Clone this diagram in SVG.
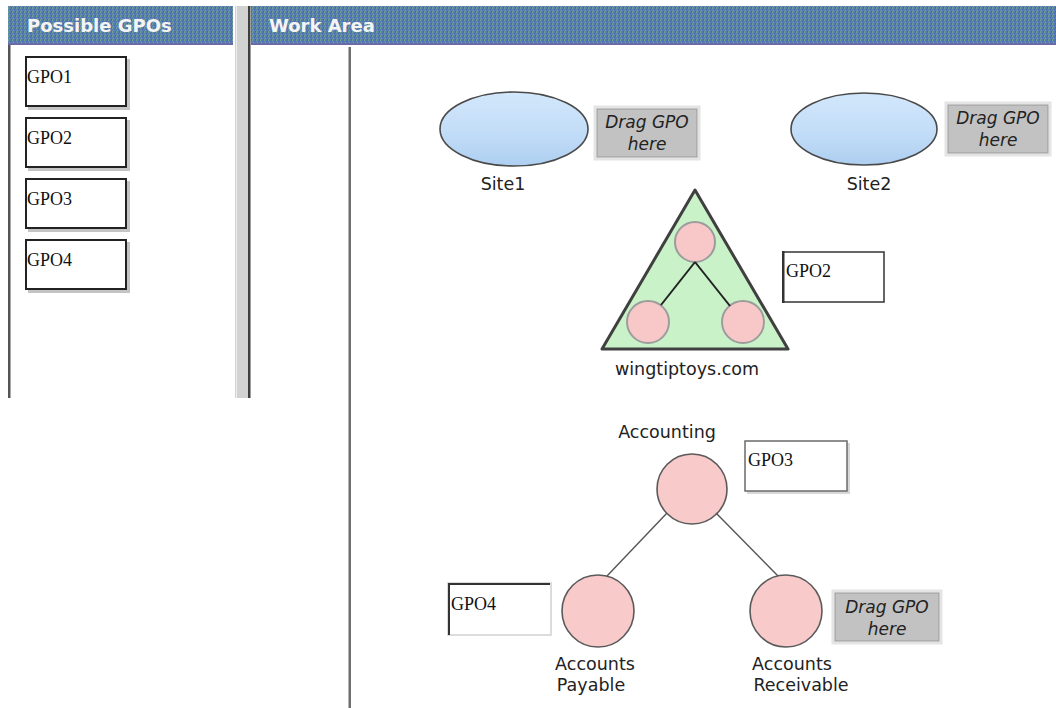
<svg xmlns="http://www.w3.org/2000/svg" width="1056" height="708" viewBox="0 0 1056 708">
<defs>
<pattern id="dither" width="4" height="4" patternUnits="userSpaceOnUse">
<rect width="4" height="4" fill="#5a7fae"/>
<rect x="0" y="0" width="1" height="1" fill="#6fa392"/>
<rect x="2" y="1" width="1" height="1" fill="#4866b8"/>
<rect x="1" y="2" width="1" height="1" fill="#72a894"/>
<rect x="3" y="3" width="1" height="1" fill="#4a62b0"/>
<rect x="3" y="0" width="1" height="1" fill="#4e6cc0"/>
<rect x="0" y="3" width="1" height="1" fill="#68a090"/>
</pattern>
<linearGradient id="siteFill" x1="0" y1="0" x2="0" y2="1">
<stop offset="0" stop-color="#d2e7fb"/>
<stop offset="0.5" stop-color="#c4def8"/>
<stop offset="1" stop-color="#aecff1"/>
</linearGradient>
<style>
.hdr{fill:url(#dither)}
.hdrText{font-family:"DejaVu Sans",Verdana,sans-serif;font-weight:bold;font-size:18px;fill:#f4f4f4}
.gpo{fill:#fff;stroke:#222;stroke-width:2}
.shadow{fill:#c4c4c4}
.gpoText{font-family:"Liberation Serif","Times New Roman",serif;font-size:18px;fill:#111}
.lbl{font-family:"DejaVu Sans",Verdana,sans-serif;font-size:17.5px;fill:#222;text-anchor:middle}
.drag{fill:#c2c2c2;stroke:#9a9a9a;stroke-width:1}
.dragOuter{fill:none;stroke:#e4e4e4;stroke-width:3}
.dragText{font-family:"DejaVu Sans",Verdana,sans-serif;font-style:italic;font-size:17px;fill:#222;text-anchor:middle}
.site{fill:url(#siteFill);stroke:#4a4a4a;stroke-width:1.6}
.ou{fill:#f8c8c8;stroke:#9c9c9c;stroke-width:2}
.ou2{fill:#f9caca;stroke:#5a5a5a;stroke-width:1.6}
.treeLine{stroke:#222;stroke-width:2;fill:none}
.acctLine{stroke:#555;stroke-width:1.4;fill:none}
</style>
</defs>
<rect width="1056" height="708" fill="#fff"/>

<g id="left-panel">
<rect class="hdr" x="8" y="6" width="225" height="39"/>
<rect x="8" y="43" width="225" height="2" fill="#6a6aa6"/>
<text class="hdrText" x="27" y="32">Possible GPOs</text>
<rect x="8" y="45" width="2.5" height="353" fill="#555"/>
</g>

<g id="divider">
<rect x="235" y="6" width="14" height="392" fill="#d2d2d2"/>
<rect x="236" y="6" width="1" height="392" fill="#eeeeee"/>
<rect x="248" y="6" width="2.5" height="392" fill="#3e3e3e"/>
</g>

<g id="work-area">
<rect class="hdr" x="251" y="6" width="805" height="39"/>
<rect x="251" y="43" width="805" height="2" fill="#6a6aa6"/>
<text class="hdrText" x="269" y="32">Work Area</text>
<rect x="348.5" y="47" width="2.5" height="661" fill="#6e6e6e"/>
</g>

<g id="gpo1-palette">
<rect class="shadow" x="28" y="59" width="102" height="51"/>
<rect class="gpo" x="26" y="57" width="100" height="49"/>
<text class="gpoText" x="27" y="83">GPO1</text>
</g>
<g id="gpo2-palette">
<rect class="shadow" x="28" y="120" width="102" height="51"/>
<rect class="gpo" x="26" y="118" width="100" height="49"/>
<text class="gpoText" x="27" y="144">GPO2</text>
</g>
<g id="gpo3-palette">
<rect class="shadow" x="28" y="181" width="102" height="51"/>
<rect class="gpo" x="26" y="179" width="100" height="49"/>
<text class="gpoText" x="27" y="205">GPO3</text>
</g>
<g id="gpo4-palette">
<rect class="shadow" x="28" y="242" width="102" height="51"/>
<rect class="gpo" x="26" y="240" width="100" height="49"/>
<text class="gpoText" x="27" y="266">GPO4</text>
</g>

<g id="site1">
<ellipse class="site" cx="514" cy="129" rx="74" ry="37"/>
<text class="lbl" x="503" y="190">Site1</text>
</g>
<g id="site1-slot">
<rect class="dragOuter" x="595" y="107" width="104" height="52"/>
<rect class="drag" x="597" y="109" width="100" height="48"/>
<text class="dragText" x="647" y="128">Drag GPO</text>
<text class="dragText" x="647" y="150">here</text>
</g>

<g id="site2">
<ellipse class="site" cx="864" cy="129" rx="73" ry="36"/>
<text class="lbl" x="869" y="190">Site2</text>
</g>
<g id="site2-slot">
<rect class="dragOuter" x="946" y="103" width="104" height="52"/>
<rect class="drag" x="948" y="105" width="100" height="48"/>
<text class="dragText" x="998" y="124">Drag GPO</text>
<text class="dragText" x="998" y="146">here</text>
</g>

<g id="domain">
<path d="M695 190 L788 349 L602 349 Z" fill="#c9f2c9" stroke="#404040" stroke-width="3" stroke-linejoin="round"/>
<circle class="ou" cx="695" cy="242" r="20"/>
<circle class="ou" cx="648" cy="322" r="21"/>
<circle class="ou" cx="743" cy="322" r="21"/>
<text class="lbl" x="687" y="375">wingtiptoys.com</text>
</g>
<g id="gpo2-linked">
<rect x="783" y="252" width="101" height="50" fill="#fff" stroke="#333" stroke-width="1.5"/>
<rect x="782" y="251" width="2.5" height="52" fill="#333"/>
<text class="gpoText" x="786" y="277">GPO2</text>
</g>

<g id="accounting">
<text class="lbl" x="667" y="438">Accounting</text>
<circle class="ou2" cx="692" cy="489" r="35"/>
</g>
<g id="gpo3-linked">
<rect x="747" y="443" width="103" height="51" fill="#d8d8d8"/>
<rect x="745" y="441" width="102" height="50" fill="#fff" stroke="#6a6a6a" stroke-width="1.5"/>
<text class="gpoText" x="748" y="466">GPO3</text>
</g>

<g id="accounts-payable">
<circle class="ou2" cx="598" cy="611" r="36"/>
<text class="lbl" x="595" y="670">Accounts</text>
<text class="lbl" x="591" y="691">Payable</text>
</g>
<g id="gpo4-linked">
<rect x="448" y="583" width="103" height="52" fill="#fff" stroke="#d0d0d0" stroke-width="1.5"/>
<path d="M449 635 L449 584 L550 584" fill="none" stroke="#333" stroke-width="2"/>
<text class="gpoText" x="451" y="610">GPO4</text>
</g>

<g id="accounts-receivable">
<circle class="ou2" cx="786" cy="611" r="36"/>
<text class="lbl" x="792" y="670">Accounts</text>
<text class="lbl" x="801" y="691">Receivable</text>
</g>
<g id="ar-slot">
<rect class="dragOuter" x="833" y="591" width="108" height="52"/>
<rect class="drag" x="835" y="593" width="104" height="48"/>
<text class="dragText" x="887" y="613">Drag GPO</text>
<text class="dragText" x="887" y="635">here</text>
</g>

<g id="connectors">
<line class="treeLine" x1="695" y1="262" x2="661" y2="305"/>
<line class="treeLine" x1="695" y1="262" x2="730" y2="306"/>
<line class="acctLine" x1="667" y1="513" x2="607" y2="576"/>
<line class="acctLine" x1="716" y1="513" x2="778" y2="576"/>
</g>
</svg>
